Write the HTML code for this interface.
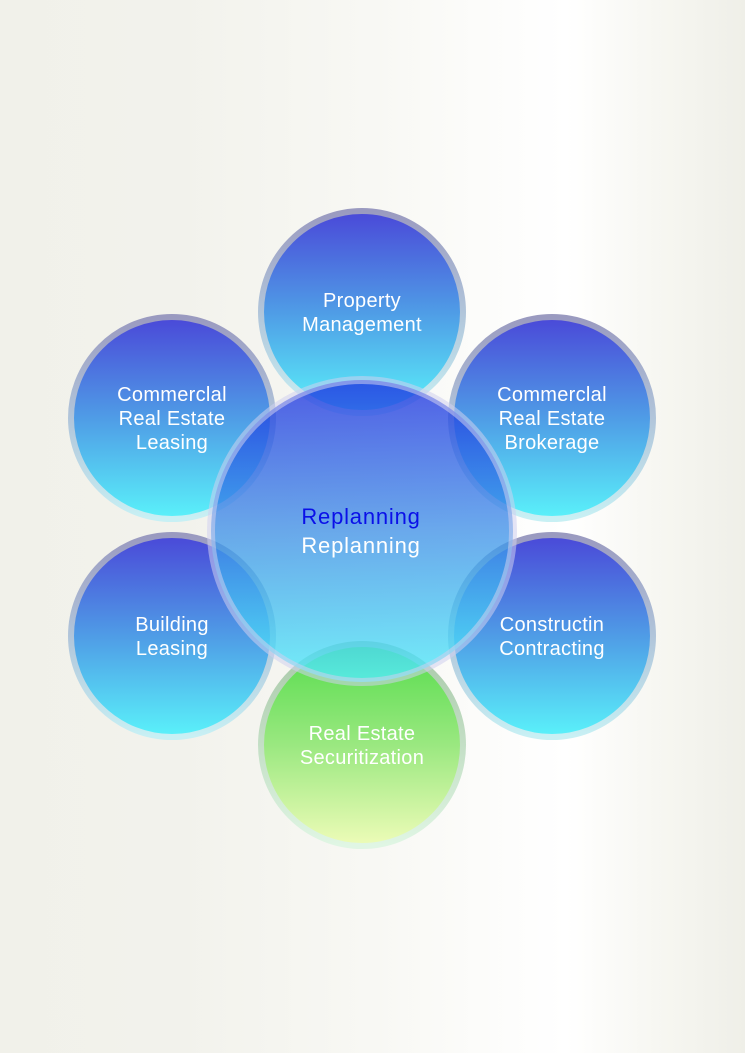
<!DOCTYPE html>
<html><head><meta charset="utf-8"><style>
html,body{margin:0;padding:0;width:745px;height:1053px;overflow:hidden}
body{background:linear-gradient(90deg,#f1f1ea 0%,#f2f2ec 24%,#f8f8f4 50%,#ffffff 76%,#f7f7f2 88%,#efefe8 100%)}
svg{position:absolute;left:0;top:0}
text{font-family:"Liberation Sans",sans-serif;fill:#fff;font-size:20px;text-anchor:middle;letter-spacing:0.3px}
</style></head><body>
<svg width="745" height="1053" viewBox="0 0 745 1053">
<defs>
<linearGradient id="b" x1="0" y1="0" x2="0" y2="1">
<stop offset="0" stop-color="#4a48d8"/><stop offset="0.5" stop-color="#4f9ce6"/><stop offset="1" stop-color="#5af2fa"/>
</linearGradient>
<linearGradient id="br" x1="0" y1="0" x2="0" y2="1">
<stop offset="0" stop-color="#9a9ac0"/><stop offset="1" stop-color="#c8f0f4"/>
</linearGradient>
<linearGradient id="g" x1="0" y1="0" x2="0" y2="1">
<stop offset="0" stop-color="#55dc4c"/><stop offset="0.5" stop-color="#9ae880"/><stop offset="1" stop-color="#eefcb8"/>
</linearGradient>
<linearGradient id="gr" x1="0" y1="0" x2="0" y2="1">
<stop offset="0" stop-color="#a8c8a8"/><stop offset="1" stop-color="#e0f6e4"/>
</linearGradient>
<linearGradient id="c" x1="0" y1="0" x2="0" y2="1">
<stop offset="0" stop-color="#1e30e0" stop-opacity="0.78"/><stop offset="0.5" stop-color="#3a8ee8" stop-opacity="0.75"/><stop offset="1" stop-color="#52eefa" stop-opacity="0.8"/>
</linearGradient>
</defs>
<g stroke-width="6">
<circle cx="362" cy="312" r="101" fill="url(#b)" stroke="url(#br)"/>
<circle cx="172" cy="418" r="101" fill="url(#b)" stroke="url(#br)"/>
<circle cx="552" cy="418" r="101" fill="url(#b)" stroke="url(#br)"/>
<circle cx="172" cy="636" r="101" fill="url(#b)" stroke="url(#br)"/>
<circle cx="552" cy="636" r="101" fill="url(#b)" stroke="url(#br)"/>
<circle cx="362" cy="745" r="101" fill="url(#g)" stroke="url(#gr)"/>
</g>
<circle cx="362" cy="531" r="151" fill="url(#c)" stroke="#d0d0ee" stroke-opacity="0.55" stroke-width="8"/>
<text x="362" y="307">Property</text><text x="362" y="331">Management</text>
<text x="172" y="401">Commerclal</text><text x="172" y="425">Real Estate</text><text x="172" y="449">Leasing</text>
<text x="552" y="401">Commerclal</text><text x="552" y="425">Real Estate</text><text x="552" y="449">Brokerage</text>
<text x="172" y="631">Building</text><text x="172" y="655">Leasing</text>
<text x="552" y="631">Constructin</text><text x="552" y="655">Contracting</text>
<text x="362" y="740">Real Estate</text><text x="362" y="764">Securitization</text>
<text x="361" y="524" style="font-size:22px;fill:#0a10e8;letter-spacing:0.8px">Replanning</text>
<text x="361" y="553" style="font-size:22px;letter-spacing:0.8px">Replanning</text>
</svg>
</body></html>
